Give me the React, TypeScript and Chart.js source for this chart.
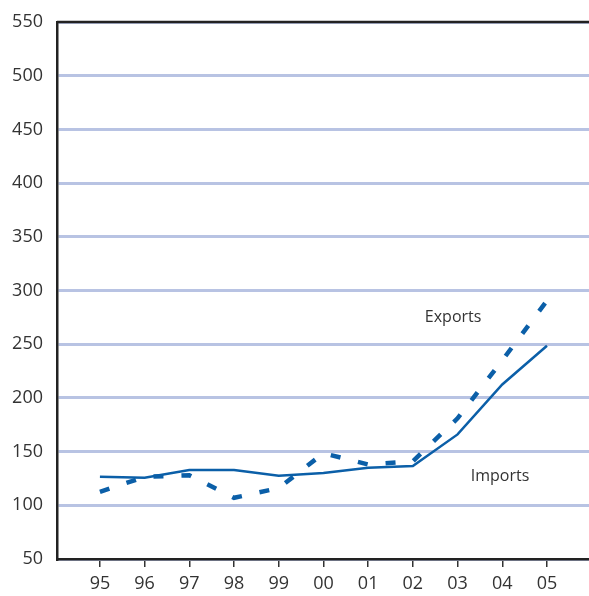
import React, { useEffect, useRef } from "react";
import { Chart, registerables } from "chart.js";

Chart.register(...registerables);

const years = ["95", "96", "97", "98", "99", "00", "01", "02", "03", "04", "05"];
const imports = [126.5, 125.6, 132.8, 132.8, 127.5, 130, 135, 136.5, 166, 212.5, 248.5];
const exports = [112.5, 126.5, 128, 107, 116, 148.5, 138, 141, 181, 235, 290.5];
const yTicks = [50, 100, 150, 200, 250, 300, 350, 400, 450, 500, 550];
const annotations = [
  { text: "Exports", x: 8.9, y: 275 },
  { text: "Imports", x: 9.95, y: 127 },
];

const LINE = "#0b5fa8";
const FONT = "'Open Sans', 'Noto Sans', sans-serif";

export default function App() {
  const ref = useRef<HTMLCanvasElement | null>(null);
  useEffect(() => {
    if (!ref.current) return;
    const toPts = (arr: number[]) => arr.map((v, i) => ({ x: i + 1, y: v }));
    const extras = {
      id: "extras",
      afterDraw(chart: any) {
        const { ctx, chartArea, scales } = chart;
        ctx.save();
        ctx.strokeStyle = "#222";
        ctx.lineWidth = 2.5;
        ctx.beginPath();
        ctx.moveTo(chartArea.left, chartArea.top);
        ctx.lineTo(chartArea.right, chartArea.top);
        ctx.stroke();
        ctx.fillStyle = "#333";
        ctx.font = `16px ${FONT}`;
        ctx.textAlign = "center";
        ctx.textBaseline = "middle";
        annotations.forEach((a) => {
          ctx.fillText(a.text, scales.x.getPixelForValue(a.x), scales.y.getPixelForValue(a.y));
        });
        ctx.restore();
      },
    };
    const chart = new Chart(ref.current, {
      type: "line",
      data: {
        datasets: [
          {
            label: "Exports",
            data: toPts(exports),
            borderColor: LINE,
            borderWidth: 4.5,
            borderDash: [10, 18],
            pointRadius: 0,
            tension: 0,
            fill: false,
          },
          {
            label: "Imports",
            data: toPts(imports),
            borderColor: LINE,
            borderWidth: 2.5,
            pointRadius: 0,
            tension: 0,
            fill: false,
          },
        ],
      },
      options: {
        responsive: false,
        animation: false,
        layout: { padding: { top: 22, right: 0, left: 0, bottom: 0 } },
        plugins: { legend: { display: false }, tooltip: { enabled: false } },
        scales: {
          x: {
            type: "linear",
            min: 0.04,
            max: 11.94,
            afterBuildTicks: (axis: any) => {
              axis.ticks = years.map((_, i) => ({ value: i + 1 }));
            },
            afterFit: (axis: any) => {
              axis.height = 37;
              axis.paddingLeft = 0;
              axis.paddingRight = 0;
            },
            ticks: {
              autoSkip: false,
              maxRotation: 0,
              color: "#333",
              font: { family: FONT, size: 18 },
              padding: 6,
              callback: (v: any) => years[Math.round(Number(v)) - 1] ?? "",
            },
            grid: {
              drawOnChartArea: false,
              drawTicks: true,
              tickLength: 8,
              color: "#333",
              lineWidth: 1.5,
            },
            border: { display: true, color: "#222", width: 2.5 },
          },
          y: {
            min: 50,
            max: 550,
            afterBuildTicks: (axis: any) => {
              axis.ticks = yTicks.map((v) => ({ value: v }));
            },
            afterFit: (axis: any) => {
              axis.width = 57;
              axis.paddingTop = 0;
              axis.paddingBottom = 0;
            },
            ticks: {
              color: "#333",
              font: { family: FONT, size: 18 },
              padding: 14,
            },
            grid: {
              drawTicks: false,
              color: "#b8c3e3",
              lineWidth: 3,
            },
            border: { display: true, color: "#222", width: 2.5 },
          },
        },
      },
      plugins: [extras],
    });
    return () => chart.destroy();
  }, []);
  return (
    <div style={{ position: "fixed", left: 0, top: 0, width: 589, height: 596, background: "#fff" }}>
      <canvas ref={ref} width={589} height={596} style={{ display: "block" }} />
    </div>
  );
}
